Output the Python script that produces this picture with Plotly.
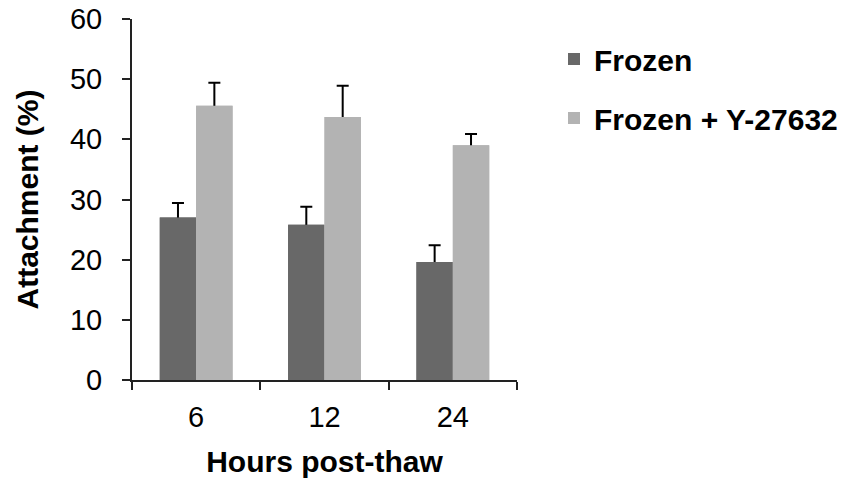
import plotly.graph_objects as go

hours = ["6", "12", "24"]
frozen = [27.0, 25.8, 19.6]
frozen_err = [2.4, 3.0, 2.8]
frozen_y = [45.6, 43.7, 39.0]
frozen_y_err = [3.8, 5.2, 1.9]
y_ticks = [0, 10, 20, 30, 40, 50, 60]

FONT = "Liberation Sans, Arial, sans-serif"
DARK = "#686868"
LIGHT = "#b3b3b3"

fig = go.Figure()
series = [
    ("Frozen", frozen, frozen_err, DARK, "g1"),
    ("Frozen + Y-27632", frozen_y, frozen_y_err, LIGHT, "g2"),
]
for name, vals, errs, color, grp in series:
    # bar carrying the (symmetric) error bar; lower half is hidden by the cover bar
    fig.add_trace(go.Bar(
        x=hours, y=vals, name=name, offsetgroup=grp, legendgroup=grp, showlegend=False,
        marker=dict(color=color, line=dict(width=0)),
        error_y=dict(type="data", array=errs, symmetric=True,
                     color="black", thickness=2, width=6),
        hoverinfo="skip",
    ))
    # cover bar drawn on top so only the upper half of the error bar shows
    fig.add_trace(go.Bar(
        x=hours, y=vals, name=name, offsetgroup=grp, legendgroup=grp,
        marker=dict(color=color, line=dict(width=0)),
    ))

fig.update_layout(
    width=849, height=484,
    margin=dict(l=132, r=332, t=19, b=104, autoexpand=False),
    paper_bgcolor="white", plot_bgcolor="white",
    barmode="group", bargap=0.433, bargroupgap=0,
    font=dict(family=FONT, color="black"),
    legend=dict(
        xref="container", yref="container", x=554/849, y=1 - 33/484,
        xanchor="left", yanchor="top",
        font=dict(size=30, family=FONT, weight="bold"),
        tracegroupgap=17, traceorder="grouped",
    ),
    xaxis=dict(
        type="category", showgrid=False, showline=True, linecolor="#222", linewidth=2,
        ticks="outside", tickson="boundaries", ticklen=8, tickwidth=2, tickcolor="#222",
        tickfont=dict(size=29), ticklabelstandoff=10, automargin=False,
        title=dict(text="<b>Hours post-thaw</b>", font=dict(size=30), standoff=19),
    ),
    yaxis=dict(
        range=[0, 60], tickvals=y_ticks, showgrid=False, zeroline=False,
        showline=True, linecolor="#222", linewidth=2,
        ticks="outside", ticklen=8, tickwidth=2, tickcolor="#222",
        tickfont=dict(size=29), ticklabelstandoff=14, automargin=False,
        title=dict(text="<b>Attachment (%)</b>", font=dict(size=30), standoff=22),
    ),
)

fig.write_html("out.html")
